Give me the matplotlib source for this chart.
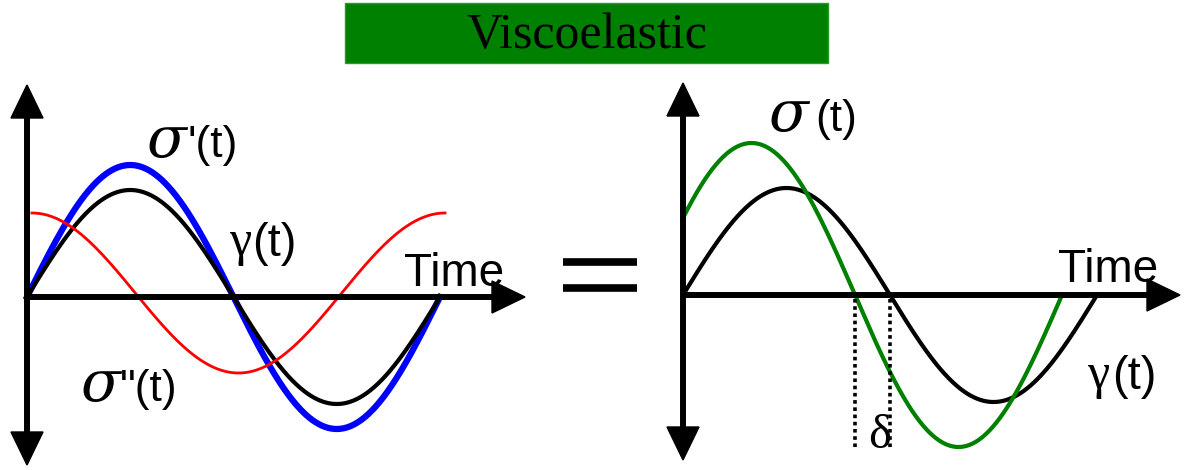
import numpy as np
import matplotlib.pyplot as plt
from matplotlib.patches import Polygon, Rectangle

# figure laid out in pixel units (1184 x 470), y grows downward
W, H = 1184, 470

# left panel: in-phase / out-of-phase split
left_origin = (27, 297)
left_period = 413
left_gamma_amp = 107      # gamma(t), black
left_sig1_amp = 132       # sigma'(t), blue, in phase
left_sig2_amp = 80        # sigma''(t), red, 90 deg ahead
left_sig2_shift = 5
left_sig2_center = 293

# right panel: total stress leads strain by delta
right_origin = (683, 295)
right_period = 414
right_gamma_amp = 107     # gamma(t), black
right_sig_amp = 152       # sigma(t), green
delta_px = 35

fig = plt.figure(figsize=(W / 100, H / 100), dpi=100)
ax = fig.add_axes([0, 0, 1, 1])
ax.set_xlim(0, W)
ax.set_ylim(H, 0)
ax.axis('off')


def axes_cross(x0, y0, top, bottom, right):
    ax.plot([x0, x0], [top + 20, bottom - 20], color='black', lw=4.3, solid_capstyle='butt')
    ax.plot([x0, right - 20], [y0, y0], color='black', lw=4.3, solid_capstyle='butt')
    ax.add_patch(Polygon([[x0, top], [x0 - 16, top + 33], [x0 + 16, top + 33]], color='black'))
    ax.add_patch(Polygon([[x0, bottom], [x0 - 16, bottom - 33], [x0 + 16, bottom - 33]], color='black'))
    ax.add_patch(Polygon([[right, y0], [right - 33, y0 - 16], [right - 33, y0 + 16]], color='black'))


# ---- left panel
x0, y0 = left_origin
t = np.linspace(0, 1, 400)
xs = x0 + t * left_period
ax.plot(xs, y0 - left_sig1_amp * np.sin(2 * np.pi * t), color='#0000ff', lw=4.5)
ax.plot(xs, y0 - left_gamma_amp * np.sin(2 * np.pi * t), color='black', lw=3)
xr = xs + left_sig2_shift
ax.plot(xr, left_sig2_center - left_sig2_amp * np.cos(2 * np.pi * t), color='#ff0000', lw=2)
axes_cross(x0, y0, 85, 465, 525)

# ---- right panel
x1, y1 = right_origin
phi = 2 * np.pi * delta_px / right_period
xs = x1 + t * right_period
ax.plot(xs, y1 - right_gamma_amp * np.sin(2 * np.pi * t), color='black', lw=3)
tg = np.linspace(0, 1 - delta_px / right_period, 400)
ax.plot(x1 + tg * right_period, y1 - right_sig_amp * np.sin(2 * np.pi * tg + phi),
        color='#008000', lw=3)
z_sig = x1 + right_period / 2 - delta_px
z_gam = x1 + right_period / 2
for xz in (z_sig, z_gam):
    ax.plot([xz, xz], [y1 + 4, 450], color='black', lw=2.6, linestyle=(0, (1, 1)))
axes_cross(x1, y1, 83, 460, 1180)

# ---- equals sign
ax.plot([563, 637], [262, 262], color='black', lw=5.5, solid_capstyle='butt')
ax.plot([563, 637], [288, 288], color='black', lw=5.5, solid_capstyle='butt')

# ---- title box
ax.add_patch(Rectangle((345, 3), 483, 60, facecolor='#008000', edgecolor='#2a9a2a', lw=1))
ax.text(587, 36, 'Viscoelastic', family='Liberation Serif', fontsize=36,
        ha='center', va='center', color='black')

# ---- labels
sans = 'Liberation Sans'
serif = 'DejaVu Serif'
lab = 32
sig = 42
gam = 36
ax.text(146, 157, 'σ', family=serif, style='italic', fontsize=sig, va='baseline')
ax.text(188, 157, "'(t)", family=sans, fontsize=lab, va='baseline')
ax.text(229, 255, 'γ', family='Liberation Serif', fontsize=gam, va='baseline')
ax.text(252, 256, '(t)', family=sans, fontsize=lab + 2, va='baseline')
ax.text(404, 286, 'Time', family=sans, fontsize=lab + 1, va='baseline')
ax.text(80, 401, 'σ', family=serif, style='italic', fontsize=sig, va='baseline')
ax.text(120, 401, '"(t)', family=sans, fontsize=lab, va='baseline')

ax.text(768, 131, 'σ', family=serif, style='italic', fontsize=sig, va='baseline')
ax.text(815, 131, '(t)', family=sans, fontsize=lab, va='baseline')
ax.text(1058, 282, 'Time', family=sans, fontsize=lab + 1, va='baseline')
ax.text(1087, 388, 'γ', family='Liberation Serif', fontsize=gam, va='baseline')
ax.text(1112, 389, '(t)', family=sans, fontsize=lab + 2, va='baseline')
ax.text(880, 448, 'δ', family='Liberation Serif', fontsize=35, ha='center', va='baseline')

fig.savefig('out.png', dpi=100)
